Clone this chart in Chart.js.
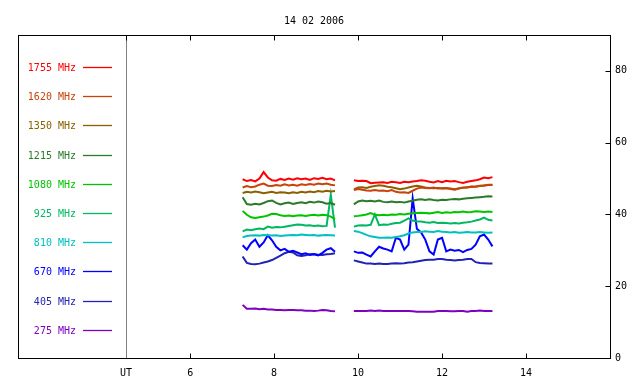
<!DOCTYPE html>
<html>
<head>
<meta charset="utf-8">
<script src="https://cdn.jsdelivr.net/npm/chart.js@4.4.1/dist/chart.umd.min.js"></script>
<style>
  body { margin: 0; background: #fff; }
</style>
</head>
<body>
<canvas id="radio" width="640" height="384"></canvas>
<script>
// --- data ---
const chartTitle = '14 02 2006';

// UT hours, gap between the two recording runs (9.7 = no data)
const hours = [
  7.25, 7.35, 7.45, 7.55, 7.65, 7.75, 7.85, 7.95, 8.05, 8.15, 8.25, 8.35,
  8.45, 8.55, 8.65, 8.75, 8.85, 8.95, 9.05, 9.15, 9.25, 9.35, 9.45,
  9.7,
  9.9, 10.0, 10.1, 10.2, 10.3, 10.4, 10.5, 10.6, 10.7, 10.8, 10.9, 11.0,
  11.1, 11.2, 11.3, 11.4, 11.5, 11.6, 11.7, 11.8, 11.9, 12.0, 12.1, 12.2,
  12.3, 12.4, 12.5, 12.6, 12.7, 12.8, 12.9, 13.0, 13.1, 13.2
];

const xTicks = [6, 8, 10, 12, 14];
const utAt = 4.47;          // where the "UT" divider sits
const yTicks = [0, 20, 40, 60, 80];

const freqLabels = ['1755 MHz', '1620 MHz', '1350 MHz', '1215 MHz', '1080 MHz',
                    '925 MHz', '810 MHz', '670 MHz', '405 MHz', '275 MHz'];
const freqColors = ['#ff0000', '#c8420a', '#8b6000', '#2a7a2a', '#00c400',
                    '#00b862', '#00c0c0', '#0000ff', '#2222b4', '#8000c0'];

const f1755 = [
  49.8, 49.3, 49.6, 49.2, 50.0, 51.8, 50.3, 49.5, 49.4, 49.9, 49.6, 50.0, 49.7, 50.1, 49.8, 50.0, 49.6, 50.1, 49.9, 50.2, 49.8, 50.0, 49.5,
  null,
  49.5, 49.3, 49.4, 49.3, 48.7, 48.8, 48.9, 49.0, 48.8, 49.1, 49.0, 48.8, 49.1, 49.0, 49.2, 49.3, 49.5,
  49.4, 49.1, 48.9, 49.3, 49.0, 49.4, 49.2, 49.3, 49.0, 48.8, 49.1, 49.3, 49.5, 49.8, 50.3, 50.1, 50.4
];
const f1620 = [
  47.5, 47.9, 47.6, 47.8, 48.3, 48.6, 48.0, 47.9, 48.2, 48.0, 48.4, 48.1, 48.3, 48.0, 48.4, 48.2, 48.5, 48.3, 48.6, 48.4, 48.6, 48.3, 48.1,
  null,
  46.8, 47.1, 46.9, 46.7, 46.6, 46.8, 46.6, 46.7, 46.5, 46.8, 46.3, 46.1, 46.2, 46.0, 46.6, 47.2, 47.5,
  47.4, 47.3, 47.5, 47.2, 47.3, 47.4, 47.1, 46.9, 47.2, 47.4, 47.6, 47.8, 47.7, 47.9, 48.1, 48.3, 48.2
];
const f1350 = [
  46.0, 46.3, 46.1, 46.4, 46.2, 45.9, 46.1, 46.3, 46.0, 46.2, 46.1, 45.9, 46.2, 46.0, 46.3, 46.1, 46.4, 46.2, 46.5, 46.3, 46.6, 46.4, 46.5,
  null,
  47.0, 47.5, 47.6, 47.4, 47.7, 47.9, 48.1, 48.0, 47.7, 47.6, 47.3, 47.0, 47.2, 47.5, 47.8, 48.0, 47.8,
  47.5, 47.4, 47.3, 47.4, 47.2, 47.3, 47.2, 47.0, 47.3, 47.5, 47.5, 47.7, 47.8, 48.0, 48.0, 48.2, 48.3
];
const f1215 = [
  44.8, 42.9, 42.7, 43.0, 42.8, 43.2, 43.7, 43.9, 43.2, 42.8, 43.1, 43.3, 42.9, 43.2, 43.4, 43.1, 43.5, 43.3, 43.6, 43.4, 43.0, 43.2, 42.7,
  null,
  42.8, 43.6, 43.9, 43.7, 43.8, 43.6, 43.9, 43.5, 43.4, 43.6, 43.4, 43.5, 43.3, 43.6, 43.8, 44.1, 44.2,
  44.0, 44.2, 44.0, 43.9, 44.1, 44.0, 44.2, 44.3, 44.2, 44.4, 44.5, 44.6, 44.7, 44.8, 44.9, 45.1, 45.0
];
const f1080 = [
  41.0, 39.9, 39.2, 39.0, 39.2, 39.4, 39.7, 40.2, 40.1, 39.8, 39.6, 39.7, 39.5, 39.7, 39.8, 39.6, 39.8, 39.9, 39.7, 39.9, 39.8, 39.4, 38.7,
  null,
  39.5, 39.6, 39.8, 40.0, 40.4, 39.9, 39.8, 39.9, 39.8, 40.0, 39.9, 40.1, 40.0, 40.2, 40.3, 40.4, 40.5,
  40.4, 40.3, 40.5, 40.7, 40.4, 40.6, 40.5, 40.7, 40.6, 40.8, 40.6, 40.7, 40.9, 40.8, 40.7, 40.8, 40.7
];
const f925 = [
  35.3, 35.8, 35.6, 35.9, 36.1, 35.9, 36.6, 36.3, 36.5, 36.4, 36.6, 36.8, 37.0, 37.2, 37.1, 36.9, 37.0, 36.8, 36.9, 36.7, 36.8, 45.5, 36.3,
  null,
  36.6, 36.9, 37.0, 36.9, 37.1, 40.0, 37.0, 37.2, 37.1, 37.4, 37.6, 37.7, 38.3, 38.9, 38.3, 38.0, 38.0,
  37.8, 37.7, 37.9, 37.6, 37.7, 37.6, 37.5, 37.6, 37.5, 37.7, 37.8, 38.0, 38.3, 38.6, 39.1, 38.5, 38.3
];
const f810 = [
  33.6, 34.0, 34.1, 34.2, 34.1, 34.3, 34.2, 34.1, 34.2, 34.0, 34.1, 34.2, 34.3, 34.2, 34.4, 34.3, 34.2, 34.3, 34.1, 34.2, 34.3, 34.2, 34.1,
  null,
  35.4, 35.2, 34.8, 34.3, 33.9, 33.7, 33.5, 33.5, 33.6, 33.5, 33.7, 33.9, 34.2, 34.7, 35.0, 35.1, 35.1,
  35.3, 35.2, 35.1, 35.4, 35.2, 35.1, 35.0, 35.1, 34.9, 35.0, 35.1, 35.0, 35.0, 35.1, 35.0, 34.9, 35.0
];
const f670 = [
  31.4, 30.2, 32.0, 33.0, 31.0, 32.2, 34.2, 32.8, 31.0, 30.0, 30.4, 29.6, 29.9, 29.4, 28.9, 29.2, 28.7, 28.9, 28.6, 29.3, 30.2, 30.6, 29.6,
  null,
  29.7, 29.3, 29.4, 28.8, 28.3, 29.7, 31.0, 30.5, 30.2, 29.7, 33.5, 33.0, 30.2, 31.6, 44.5, 36.0, 35.0,
  33.0, 29.7, 28.8, 33.0, 33.5, 29.7, 30.2, 29.9, 30.1, 29.5, 30.1, 30.4, 31.6, 33.9, 34.4, 33.0, 31.1
];
const f405 = [
  28.3, 26.5, 26.2, 26.1, 26.3, 26.6, 26.9, 27.3, 27.9, 28.5, 29.2, 29.6, 29.4, 28.6, 28.4, 28.6, 28.9, 29.0, 28.8, 28.7, 28.9, 29.0, 29.2,
  null,
  27.2, 26.9, 26.6, 26.3, 26.3, 26.2, 26.3, 26.2, 26.2, 26.3, 26.4, 26.3, 26.4, 26.6, 26.7, 26.9, 27.1,
  27.3, 27.4, 27.4, 27.6, 27.6, 27.4, 27.3, 27.2, 27.3, 27.4, 27.6, 27.6, 26.7, 26.5, 26.4, 26.3, 26.3
];
const f275 = [
  14.8, 13.7, 13.7, 13.8, 13.6, 13.7, 13.5, 13.5, 13.4, 13.4, 13.3, 13.4, 13.4, 13.3, 13.3, 13.2, 13.2, 13.1, 13.2, 13.4, 13.3, 13.1, 13.0,
  null,
  13.1, 13.1, 13.1, 13.1, 13.2, 13.1, 13.2, 13.1, 13.1, 13.1, 13.1, 13.1, 13.1, 13.1, 13.0, 12.9, 12.9,
  12.9, 12.9, 12.9, 13.1, 13.1, 13.1, 13.0, 13.0, 13.1, 13.1, 12.9, 13.1, 13.1, 13.2, 13.1, 13.1, 13.1
];

const seriesValues = [f1755, f1620, f1350, f1215, f1080, f925, f810, f670, f405, f275];

Chart.defaults.font.family = '"DejaVu Sans Mono", monospace';
Chart.defaults.font.size = 10;
Chart.defaults.color = '#000';

const datasets = seriesValues.map((vals, i) => ({
  label: freqLabels[i],
  data: hours.map((h, j) => ({ x: h, y: vals[j] })),
  borderColor: freqColors[i],
  borderWidth: 2,
  pointRadius: 0,
  tension: 0,
  spanGaps: false,
  fill: false
}));

// frame, inward tick marks, UT divider, title and the left-hand legend
const framePlugin = {
  id: 'frame',
  afterDraw(chart) {
    const { ctx, chartArea: a, scales: { x, y } } = chart;
    const L = Math.round(a.left) + 0.5, R = Math.round(a.right) + 0.5;
    const T = Math.round(a.top) + 0.5, B = Math.round(a.bottom) + 0.5;
    ctx.save();
    ctx.lineWidth = 1;

    // UT divider
    const ux = Math.round(x.getPixelForValue(utAt)) + 0.5;
    ctx.strokeStyle = '#808080';
    ctx.beginPath(); ctx.moveTo(ux, T); ctx.lineTo(ux, B); ctx.stroke();

    ctx.strokeStyle = '#000';
    ctx.strokeRect(L, T, R - L, B - T);

    ctx.beginPath();
    [utAt].concat(xTicks).forEach(v => {
      const px = Math.round(x.getPixelForValue(v)) + 0.5;
      ctx.moveTo(px, T); ctx.lineTo(px, T + 5);
      if (v !== utAt) { ctx.moveTo(px, B); ctx.lineTo(px, B - 5); }
    });
    yTicks.forEach(v => {
      const py = Math.round(y.getPixelForValue(v)) + 0.5;
      ctx.moveTo(R, py); ctx.lineTo(R - 5, py);
    });
    ctx.stroke();

    // title
    ctx.font = '10px "DejaVu Sans Mono"';
    ctx.fillStyle = '#000';
    ctx.textAlign = 'center';
    ctx.textBaseline = 'middle';
    ctx.fillText(chartTitle, (a.left + a.right) / 2, 21);

    // legend
    ctx.textAlign = 'right';
    ctx.lineWidth = 1.3;
    freqLabels.forEach((lab, i) => {
      const ly = Math.round(a.top + 32 + i * 29.2) + 0.5;
      ctx.fillStyle = freqColors[i];
      ctx.fillText(lab, a.left + 58, ly + 1);
      ctx.strokeStyle = freqColors[i];
      ctx.beginPath(); ctx.moveTo(a.left + 65, ly); ctx.lineTo(a.left + 94, ly); ctx.stroke();
    });
    ctx.restore();
  }
};

new Chart(document.getElementById('radio').getContext('2d'), {
  type: 'line',
  data: { datasets: datasets },
  options: {
    responsive: false,
    animation: false,
    layout: { padding: { left: 18, top: 35, right: 0, bottom: 0 } },
    plugins: { legend: { display: false }, tooltip: { enabled: false } },
    scales: {
      x: {
        type: 'linear',
        min: 1.9,
        max: 16,
        grid: { display: false, drawTicks: false },
        border: { display: false },
        ticks: {
          padding: 9,
          autoSkip: false,
          maxRotation: 0,
          callback: v => (v === utAt ? 'UT' : String(v))
        },
        afterBuildTicks: s => { s.ticks = [utAt].concat(xTicks).map(v => ({ value: v })); },
        afterFit: s => { s.height = 26; }
      },
      y: {
        type: 'linear',
        position: 'right',
        min: 0,
        max: 90,
        grid: { display: false, drawTicks: false },
        border: { display: false },
        ticks: { padding: 5 },
        afterBuildTicks: s => { s.ticks = yTicks.map(v => ({ value: v })); },
        afterFit: s => { s.width = 30; }
      }
    }
  },
  plugins: [framePlugin]
});
</script>
</body>
</html>
